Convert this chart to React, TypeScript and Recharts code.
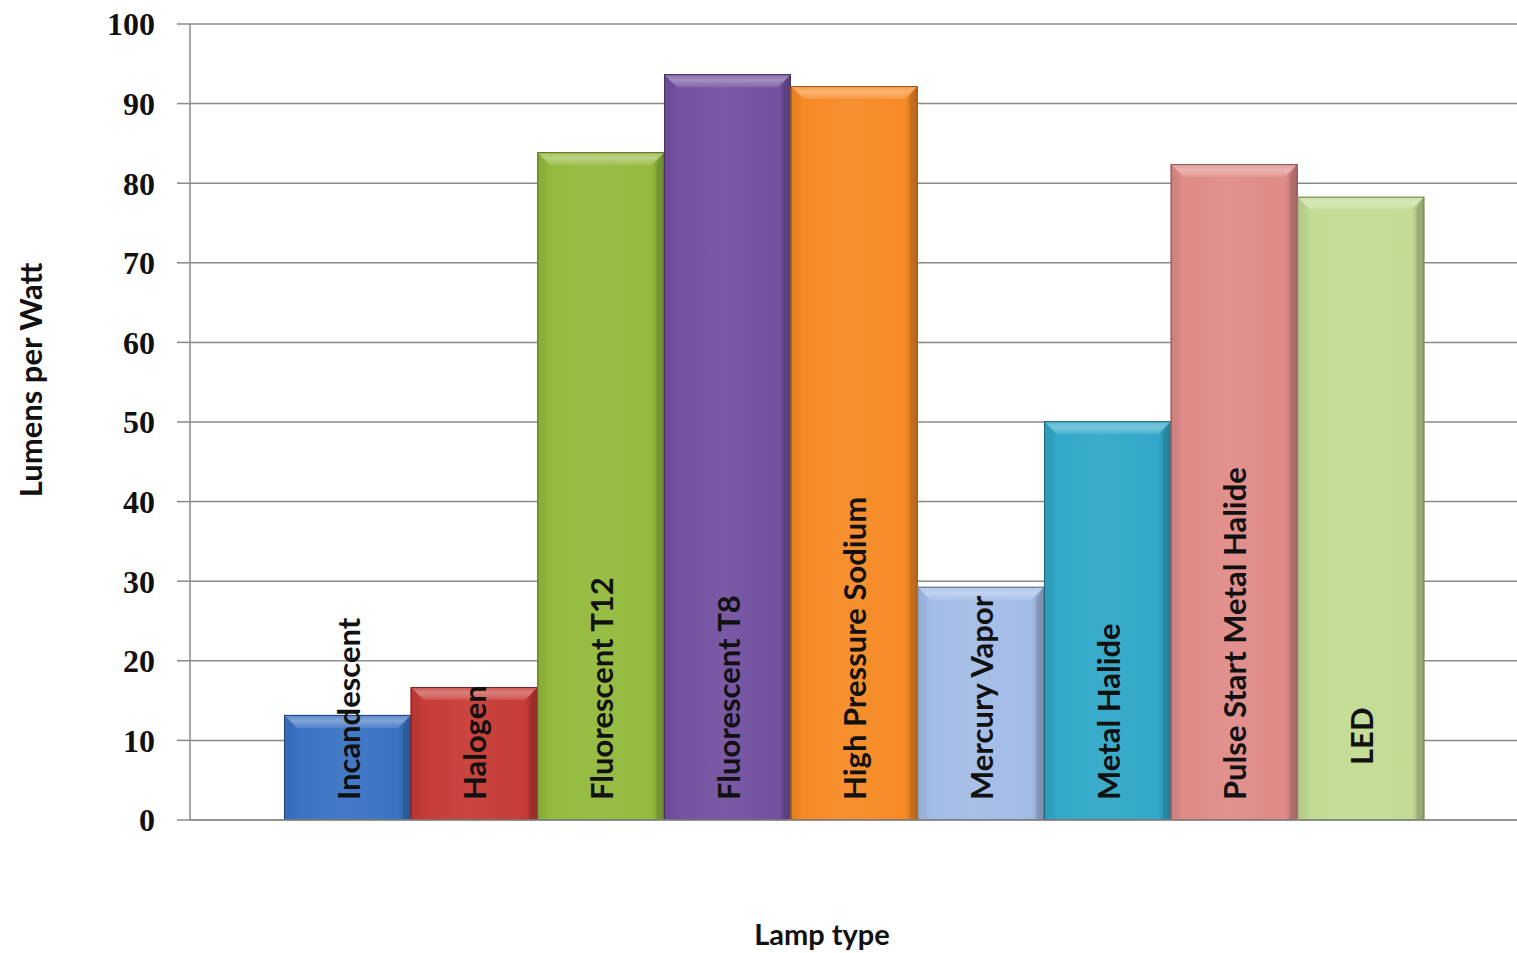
import React from 'react';
import { BarChart, Bar, XAxis, YAxis, CartesianGrid, Cell, LabelList } from 'recharts';

const categories = [
  'Incandescent',
  'Halogen',
  'Fluorescent T12',
  'Fluorescent T8',
  'High Pressure Sodium',
  'Mercury Vapor',
  'Metal Halide',
  'Pulse Start Metal Halide',
  'LED',
];
const lumensPerWatt = [13.2, 16.7, 83.9, 93.7, 92.2, 29.3, 50.1, 82.4, 78.3];
const yTicks = [0, 10, 20, 30, 40, 50, 60, 70, 80, 90, 100];
const barColors = ['#3B73C3', '#C73B36', '#93BA3D', '#7351A0', '#F68A25', '#A3BCE6', '#31A8C8', '#DF8B88', '#C3DB95'];

const data = categories.map((name, i) => ({ name, value: lumensPerWatt[i] }));

function shade(hex: string, amt: number): string {
  const n = parseInt(hex.slice(1), 16);
  let r = (n >> 16) & 255;
  let g = (n >> 8) & 255;
  let b = n & 255;
  const f = (c: number) => Math.round(amt >= 0 ? c + (255 - c) * amt : c * (1 + amt));
  r = f(r);
  g = f(g);
  b = f(b);
  return '#' + [r, g, b].map((c) => c.toString(16).padStart(2, '0')).join('');
}

function BevelBar(props: any) {
  const { x, y, width, height, fill, index } = props;
  if (!width || !height) return null;
  const c = fill as string;
  const b = Math.min(13, height / 2, width / 2);
  const s = 8;
  const id = `barGrad${index}`;
  const tid = `barTop${index}`;
  return (
    <g>
      <defs>
        <linearGradient id={id} x1="0" y1="0" x2="1" y2="0">
          <stop offset="0%" stopColor={shade(c, -0.1)} />
          <stop offset="10%" stopColor={c} />
          <stop offset="45%" stopColor={shade(c, 0.05)} />
          <stop offset="90%" stopColor={c} />
          <stop offset="100%" stopColor={shade(c, -0.25)} />
        </linearGradient>
        <linearGradient id={tid} x1="0" y1="0" x2="0" y2="1">
          <stop offset="0%" stopColor={shade(c, 0.15)} />
          <stop offset="45%" stopColor={shade(c, 0.35)} />
          <stop offset="100%" stopColor={shade(c, 0.12)} />
        </linearGradient>
      </defs>
      <rect x={x} y={y} width={width} height={height} fill={`url(#${id})`} />
      <polygon
        points={`${x},${y + height} ${x},${y} ${x + s},${y + b} ${x + s},${y + height}`}
        fill={shade(c, -0.06)}
        opacity={0.6}
      />
      <polygon
        points={`${x + width},${y} ${x + width - s},${y + b} ${x + width - s},${y + height} ${x + width},${y + height}`}
        fill={shade(c, -0.25)}
        opacity={0.6}
      />
      <polygon
        points={`${x},${y} ${x + width},${y} ${x + width - b},${y + b} ${x + b},${y + b}`}
        fill={`url(#${tid})`}
      />
      <rect x={x + 0.5} y={y + 0.5} width={width - 1} height={height - 1} fill="none" stroke={shade(c, -0.4)} strokeWidth={1} />
    </g>
  );
}

const labelLift: Record<string, number> = { LED: 35 };

function BarLabel(props: any) {
  const { x, y, width, height, value } = props;
  const cx = x + width / 2 + 12;
  const by = y + height - 20 - (labelLift[value] || 0);
  return (
    <text
      x={cx}
      y={by}
      transform={`rotate(-90, ${cx}, ${by})`}
      textAnchor="start"
      fontFamily="Lato, 'Open Sans', sans-serif"
      fontWeight="bold"
      fontSize={31}
      fill="#111"
    >
      {value}
    </text>
  );
}

function YTitle() {
  return (
    <text
      x={30}
      y={380}
      transform="rotate(-90, 30, 380)"
      textAnchor="middle"
      dominantBaseline="central"
      fontFamily="Lato, 'Open Sans', sans-serif"
      fontWeight="bold"
      fontSize={31}
      fill="#111"
    >
      Lumens per Watt
    </text>
  );
}

function XTitle() {
  return (
    <text
      x={822}
      y={933}
      textAnchor="middle"
      dominantBaseline="central"
      fontFamily="Lato, 'Open Sans', sans-serif"
      fontWeight="bold"
      fontSize={29}
      fill="#111"
    >
      Lamp type
    </text>
  );
}

export default function App() {
  return (
    <div style={{ position: 'absolute', left: 0, top: 0, width: 1517, height: 953, overflow: 'hidden', background: '#fff' }}>
      <BarChart
        width={1517}
        height={953}
        data={data}
        margin={{ top: 24, right: 0, bottom: 0, left: 0 }}
        barCategoryGap={0}
        barGap={0}
      >
        <CartesianGrid horizontal vertical={false} stroke="#8a8a8a" strokeWidth={1.5} />
        <XAxis
          dataKey="name"
          tick={false}
          tickLine={false}
          axisLine={{ stroke: '#8a8a8a', strokeWidth: 1.5 }}
          height={133}
          padding={{ left: 94, right: 93 }}
          label={<XTitle />}
        />
        <YAxis
          width={190}
          domain={[0, 100]}
          ticks={yTicks}
          interval={0}
          tickSize={13}
          tickMargin={22}
          axisLine={{ stroke: '#8a8a8a', strokeWidth: 1.5 }}
          tickLine={{ stroke: '#8a8a8a', strokeWidth: 1.5 }}
          tick={{ fontFamily: "'Liberation Serif', serif", fontWeight: 'bold', fontSize: 32, fill: '#111' }}
          label={<YTitle />}
        />
        <Bar dataKey="value" isAnimationActive={false} shape={(p: any) => <BevelBar {...p} />}>
          {data.map((d, i) => (
            <Cell key={d.name} fill={barColors[i]} />
          ))}
          <LabelList dataKey="name" content={<BarLabel />} />
        </Bar>
      </BarChart>
    </div>
  );
}
